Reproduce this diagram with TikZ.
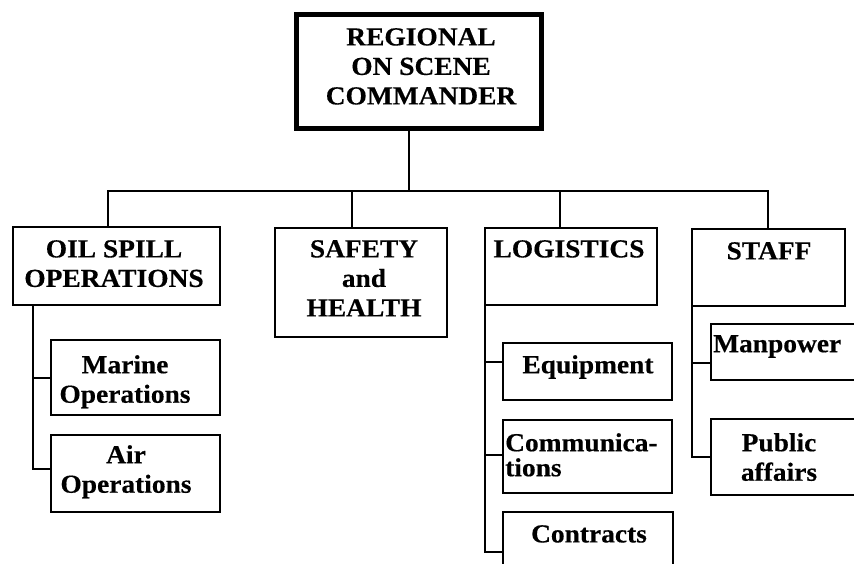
\documentclass[tikz,border=0pt]{standalone}
\usepackage{fontspec}
\setmainfont{Liberation Serif}[BoldFeatures={FakeStretch=1.055,FakeBold=0.4}]
\usetikzlibrary{calc}
\begin{document}
\begin{tikzpicture}[x=1pt,y=-1pt,
  box/.style={draw, line width=2.2pt, rectangle, inner sep=0pt, outer sep=0pt},
  thickbox/.style={box, line width=5pt},
  txt/.style={inner sep=0pt, align=center, font=\bfseries\fontsize{26}{29.5}\selectfont},
  ln/.style={line width=2.4pt}]
\useasboundingbox (0,0) rectangle (854,563);
\clip (0,0) rectangle (854,563);
% boxes
\node[thickbox, minimum width=245pt, minimum height=114pt] (top) at (418.5,71) {};
\node[box, minimum width=207pt, minimum height=78pt] (oil) at (116.5,266) {};
\node[box, minimum width=172pt, minimum height=109pt] (safety) at (361,282.5) {};
\node[box, minimum width=172pt, minimum height=77pt] (logistics) at (571,266.5) {};
\node[box, minimum width=153pt, minimum height=77pt] (staff) at (768.5,267.5) {};
\node[box, minimum width=169pt, minimum height=75pt] (marine) at (135.5,377.5) {};
\node[box, minimum width=169pt, minimum height=77pt] (air) at (135.5,473.5) {};
\node[box, minimum width=169pt, minimum height=57pt] (equip) at (587.5,371.5) {};
\node[box, minimum width=169pt, minimum height=73pt] (comm) at (587.5,456.5) {};
\node[box, minimum width=170pt, minimum height=88pt] (contracts) at (588,556) {};
\node[box, minimum width=189pt, minimum height=56pt] (manpower) at (805.5,352) {};
\node[box, minimum width=189pt, minimum height=76pt] (public) at (805.5,457) {};
% texts
\node[txt, anchor=north] (topT) at (421,28) {REGIONAL\\ON SCENE\\COMMANDER};
\node[txt, anchor=north] (oilT) at (114,240) {OIL SPILL\\OPERATIONS};
\node[txt, anchor=north] (safT) at (364,240) {SAFETY\\and\\HEALTH};
\node[txt, anchor=north] (logT) at (569,240) {LOGISTICS};
\node[txt, anchor=north] (stfT) at (769,242) {STAFF};
\node[txt, anchor=north] (marT) at (125,355) {Marine\\Operations};
\node[txt, anchor=north] (airT) at (126,445) {Air\\Operations};
\node[txt, anchor=north] (eqT) at (588,355) {Equipment};
\node[txt, anchor=north west, align=left, font=\bfseries\fontsize{26}{25}\selectfont] (comT) at (505,433) {Communica-\\tions};
\node[txt, anchor=north] (conT) at (589,525) {Contracts};
\node[txt, anchor=north west] (manT) at (713,335) {Manpower};
\node[txt, anchor=north] (pubT) at (779,433) {Public\\affairs};
% bus coordinates
\coordinate (busT) at (409,191);
\coordinate (busL) at (108,191);
\coordinate (busS) at (352,191);
\coordinate (busG) at (560,191);
\coordinate (busR) at (768,191);
\draw[ln] (busT |- top.south) -- (busT);
\draw[ln] (busL |- oil.north) -- (busL) -- (busR) -- (busR |- staff.north);
\draw[ln] (busS) -- (busS |- safety.north);
\draw[ln] (busG) -- (busG |- logistics.north);
% oil spill sub tree
\coordinate (oM) at (33,378);
\coordinate (oA) at (33,469);
\draw[ln] (oA |- oil.south) -- (oA) -- (oA -| air.west);
\draw[ln] (oM) -- (oM -| marine.west);
% logistics sub tree
\coordinate (lE) at (485,362);
\coordinate (lC) at (485,455);
\coordinate (lK) at (485,552);
\draw[ln] (lK |- logistics.south) -- (lK) -- (lK -| contracts.west);
\draw[ln] (lE) -- (lE -| equip.west);
\draw[ln] (lC) -- (lC -| comm.west);
% staff sub tree
\coordinate (sM) at (692,363);
\coordinate (sP) at (692,457);
\draw[ln] (sP |- staff.south) -- (sP) -- (sP -| public.west);
\draw[ln] (sM) -- (sM -| manpower.west);
\end{tikzpicture}
\end{document}
